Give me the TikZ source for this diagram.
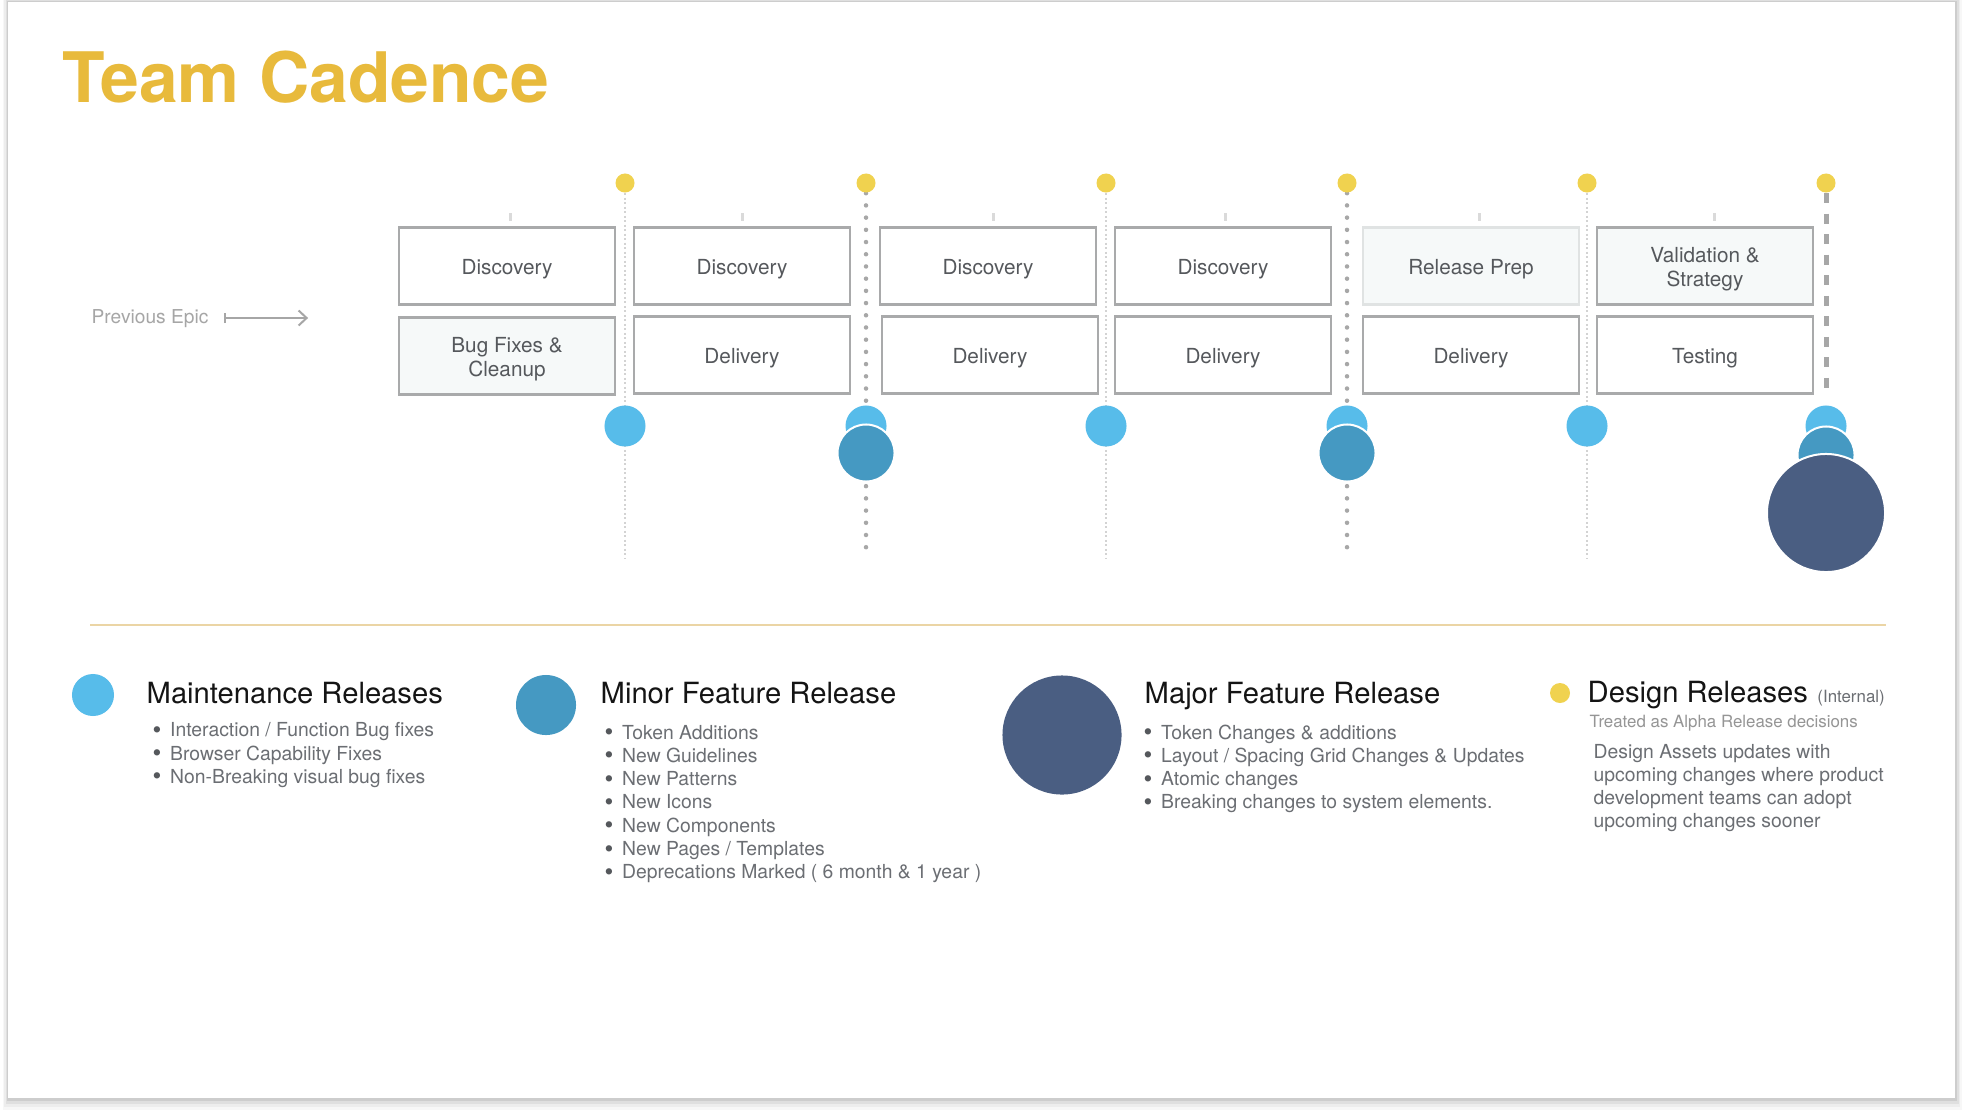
\documentclass[tikz,border=0pt]{standalone}
\usepackage{graphicx}
\usepackage{fontspec}
\setmainfont{TeX Gyre Heros}
\usetikzlibrary{arrows.meta,backgrounds}
\pgfdeclarelayer{page}
\pgfsetlayers{page,background,main}

\definecolor{titlegold}{HTML}{E8BA3C}
\definecolor{dotyellow}{HTML}{F0D24F}
\definecolor{maintblue}{HTML}{57BCEA}
\definecolor{minorblue}{HTML}{4599C2}
\definecolor{majorblue}{HTML}{4A5E82}
\definecolor{boxline}{HTML}{A9AAAB}
\definecolor{prepline}{HTML}{E0E3E3}
\definecolor{boxfill}{HTML}{F6F9F9}
\definecolor{boxtext}{HTML}{55585C}
\definecolor{headtext}{HTML}{141414}
\definecolor{itemtext}{HTML}{6B6E73}
\definecolor{bulletgray}{HTML}{55585C}
\definecolor{faintgray}{HTML}{D3D3D3}
\definecolor{dotgray}{HTML}{A7A7A7}
\definecolor{tickgray}{HTML}{DADADA}
\definecolor{sepgold}{HTML}{EBD5A5}
\definecolor{epicgray}{HTML}{A6A6A6}
\newcommand{\itm}[1]{\makebox[0.175cm][l]{\textcolor{bulletgray}{\raisebox{-0.08em}{\scalebox{1.3}{\textbullet}}}}#1}

\begin{document}
\begin{tikzpicture}[x=0.01cm,y=-0.01cm,
    phasetext/.style={yshift=-0.035cm,inner sep=0pt,align=center,text=boxtext,
      font=\fontsize{5.9pt}{6.9pt}\selectfont},
    phase/.style={draw=boxline,line width=0.025cm,fill=white,minimum width=2.16cm,
      minimum height=0.77cm,inner sep=0pt,label={[phasetext]center:{#1}}},
    shaded/.style={phase={#1},fill=boxfill},
    ydot/.style={circle,fill=dotyellow,inner sep=0pt,minimum size=0.19cm},
    maintrel/.style={circle,fill=maintblue,inner sep=0pt,minimum size=0.41cm},
    minorrel/.style={circle,fill=minorblue,draw=white,line width=0.02cm,inner sep=0pt,minimum size=0.57cm},
    majorrel/.style={circle,fill=majorblue,draw=white,line width=0.02cm,inner sep=0pt,minimum size=1.18cm},
    faintline/.style={faintgray,line width=0.015cm,dash pattern=on 0.02cm off 0.025cm},
    dotline/.style={dotgray,line width=0.045cm,line cap=round,dash pattern=on 0pt off 0.122cm},
    dashline/.style={dotgray,line width=0.05cm,dash pattern=on 0.1cm off 0.105cm},
    epictick/.style={fill=tickgray,inner sep=0pt,minimum width=0.03cm,minimum height=0.08cm},
    head/.style={anchor=base west,inner sep=0pt,text=headtext,font=\fontsize{8.3pt}{10pt}\selectfont},
    listitem/.style={anchor=base west,inner sep=0pt,text=itemtext,font=\fontsize{5.5pt}{6.6pt}\selectfont},
    notetext/.style={listitem,font=\fontsize{4.8pt}{6pt}\selectfont},
  ]
  \useasboundingbox (0,0) rectangle (1964,1112);
  \begin{pgfonlayer}{page}
    \fill[white] (0,0) rectangle (1964,1112);
    \foreach \s/\o in {12/0.03,9/0.04,6/0.06,3/0.08}
      \fill[black,opacity=\o] ({8-\s*0.4},{2-\s*0.3}) rectangle ({1955+\s*0.6},{1098+\s});
    \fill[white] (8,2) rectangle (1955,1098);
  \end{pgfonlayer}

  \node[anchor=base west,inner sep=0pt,text=titlegold,
    font=\fontsize{19.8pt}{22pt}\bfseries\selectfont] (title) at (62,102) {Team Cadence};

  % release markers
  \foreach \i/\x in {1/625,2/866,3/1106,4/1347,5/1587,6/1826}{
    \node[ydot] (y\i) at (\x,183) {};
    \node[maintrel] (m\i) at (\x,426) {};
  }
  \node[minorrel] (n2) at (866,453) {};
  \node[minorrel] (n4) at (1347,453) {};
  \node[minorrel] (n6) at (1826,455) {};
  \node[majorrel] (j6) at (1826,513) {};

  \begin{scope}[on background layer]
    \foreach \i/\x in {1/625,3/1106,5/1587}{
      \coordinate (f\i) at (\x,558);
      \draw[faintline] (y\i) -- (f\i);
    }
    \foreach \i/\x in {2/866,4/1347}{
      \coordinate (f\i) at (\x,548);
      \draw[dotline] (y\i) -- (f\i);
    }
    \coordinate (f6) at (1826,397);
    \draw[dashline] (y6) -- (f6);
  \end{scope}

  % phases
  \foreach \i/\x in {1/510,2/742,3/993,4/1225,5/1479,6/1714}
    \node[epictick] (k\i) at (\x,217) {};
  \node[phase=Discovery] (d1) at (507,266) {};
  \node[shaded={Bug Fixes \&\\Cleanup}] (b1) at (507,356) {};
  \node[phase=Discovery] (d2) at (742,266) {};
  \node[phase=Delivery] (v2) at (742,355) {};
  \node[phase=Discovery] (d3) at (988,266) {};
  \node[phase=Delivery] (v3) at (990,355) {};
  \node[phase=Discovery] (d4) at (1223,266) {};
  \node[phase=Delivery] (v4) at (1223,355) {};
  \node[shaded={Release Prep},draw=prepline] (r5) at (1471,266) {};
  \node[phase=Delivery] (v5) at (1471,355) {};
  \node[shaded={Validation \&\\Strategy}] (s6) at (1705,266) {};
  \node[phase=Testing] (t6) at (1705,355) {};

  \node[anchor=base west,inner sep=0pt,text=epicgray,
    font=\fontsize{5.45pt}{6.5pt}\selectfont] (prev) at (91,323) {Previous Epic};
  \draw[epicgray,line width=0.02cm,{Bar[width=0.1cm]}-{Straight Barb[length=0.08cm,width=0.15cm]}]
    ([shift={(15,-5)}]prev.base east) -- ++(84,0);

  \draw[sepgold,line width=0.016cm] (90,625) -- (1886,625);

  % legend
  \node[maintrel,minimum size=0.42cm] (lm) at (93,695) {};
  \node[head] (hm) at (146,703) {Maintenance Releases};
  \foreach \t [count=\k] in {Interaction / Function Bug fixes,Browser Capability Fixes,
      Non-Breaking visual bug fixes}
    \node[listitem] (mi\k) at (152,{736.7+23.3*(\k-1)}) {\itm{\t}};

  \node[minorrel,draw=none,minimum size=0.6cm] (ln) at (546,705) {};
  \node[head] (hn) at (600,703) {Minor Feature Release};
  \foreach \t [count=\k] in {Token Additions,New Guidelines,New Patterns,New Icons,
      New Components,New Pages / Templates,Deprecations Marked ( 6 month \& 1 year )}
    \node[listitem] (ni\k) at (604,{739+23.3*(\k-1)}) {\itm{\t}};

  \node[majorrel,draw=none,minimum size=1.19cm] (lj) at (1062,735) {};
  \node[head] (hj) at (1144,703) {Major Feature Release};
  \foreach \t [count=\k] in {Token Changes \& additions,Layout / Spacing Grid Changes \& Updates,
      Atomic changes,Breaking changes to system elements.}
    \node[listitem] (ji\k) at (1143,{739+23.3*(\k-1)}) {\itm{\t}};

  \node[ydot,minimum size=0.2cm] (ld) at (1560,693) {};
  \node[head] (hd) at (1587,702) {Design Releases};
  \node[notetext] (hi) at ([xshift=0.08cm]hd.base east) {(Internal)};
  \node[notetext,text=epicgray!90!black] (ta) at (1589,727) {Treated as Alpha Release decisions};
  \foreach \t [count=\k] in {Design Assets updates with,upcoming changes where product,
      development teams can adopt,upcoming changes sooner}
    \node[listitem] (di\k) at (1593,{758+23.3*(\k-1)}) {\t};
\end{tikzpicture}
\end{document}
